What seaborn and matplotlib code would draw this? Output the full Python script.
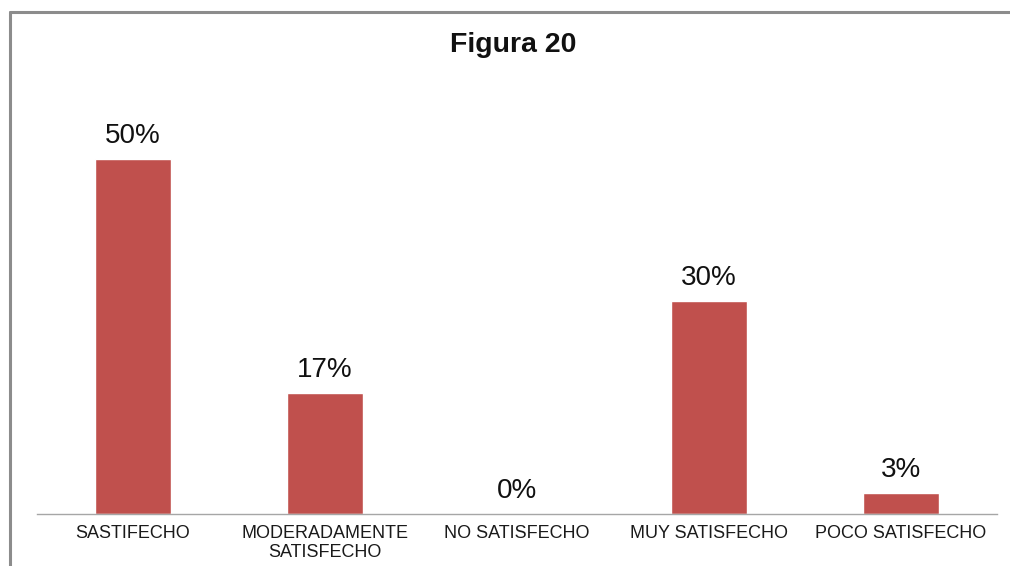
import matplotlib
matplotlib.use("Agg")
import matplotlib.pyplot as plt
from matplotlib.lines import Line2D
import seaborn as sns

categories = ["SASTIFECHO", "MODERADAMENTE\nSATISFECHO", "NO SATISFECHO",
              "MUY SATISFECHO", "POCO SATISFECHO"]
values = [50, 17, 0, 30, 3]
labels = ["50%", "17%", "0%", "30%", "3%"]

sns.set_theme(style="white")
plt.rcParams["font.family"] = ["Liberation Sans", "DejaVu Sans"]

fig = plt.figure(figsize=(10.10, 5.66), dpi=100)
ax = fig.add_axes([0.0366, 0.0919, 0.9505, 0.7526])

sns.barplot(x=categories, y=values, color="#C0504D", saturation=1,
            width=0.4, ax=ax)

ax.set_ylim(0, 60)
ax.set_xlim(-0.5, len(categories) - 0.5)
ax.set_xlabel("")
ax.set_ylabel("")
ax.set_yticks([])
for side in ("top", "right", "left"):
    ax.spines[side].set_visible(False)
ax.spines["bottom"].set_color("#A6A6A6")
ax.spines["bottom"].set_linewidth(1.0)
ax.tick_params(axis="x", length=0, pad=8, labelsize=13, colors="#1a1a1a")
for t in ax.get_xticklabels():
    t.set_linespacing(1.15)

for i, (v, lab) in enumerate(zip(values, labels)):
    ax.annotate(lab, xy=(i, v), xytext=(0, 11.5), textcoords="offset points",
                ha="center", va="baseline", fontsize=20, color="#111111")

fig.text(513 / 1010, 1 - 45 / 566, "Figura 20", ha="center", va="center",
         fontsize=20.5, fontweight="bold", color="#111111")

# outer chart frame (left and top edges)
frame_kw = dict(color="#8C8C8C", linewidth=2.2, transform=fig.transFigure)
fig.add_artist(Line2D([9.5 / 1010, 9.5 / 1010], [0, 1 - 12 / 566], **frame_kw))
fig.add_artist(Line2D([9.5 / 1010, 1], [1 - 12 / 566, 1 - 12 / 566], **frame_kw))

fig.savefig("out.png", dpi=100, facecolor="white")
